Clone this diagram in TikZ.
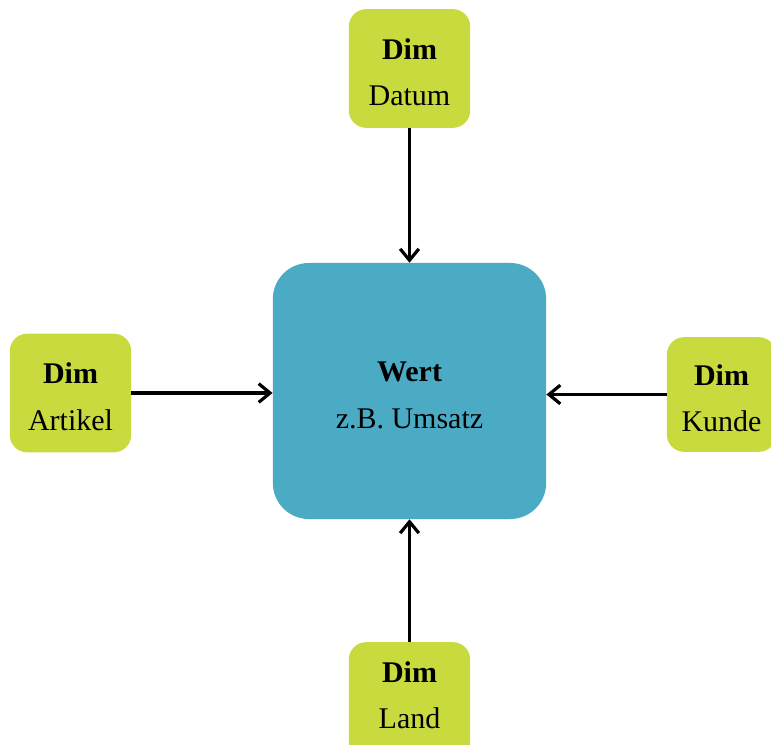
\documentclass[tikz,border=0pt]{standalone}
\usepackage{fontspec}
\setmainfont{Liberation Serif}
\usetikzlibrary{arrows.meta}
\definecolor{dimgreen}{RGB}{200,218,62}
\definecolor{wertblue}{RGB}{75,170,196}
\newcommand{\kopf}[1]{\raisebox{0pt}[21pt]{\textbf{#1}}}

\begin{document}
\begin{tikzpicture}[x=0.75pt,y=-0.75pt,
    dimbox/.style={fill=dimgreen,rounded corners=13pt,minimum width=91pt,
      minimum height=89pt,inner sep=0pt,align=center,
      font=\fontsize{22.5}{27}\selectfont},
    wertbox/.style={fill=wertblue,rounded corners=27pt,minimum width=205pt,
      minimum height=192pt,inner sep=0pt,align=center,
      font=\fontsize{22.5}{27}\selectfont},
    pfeil/.style={line width=2.4pt,
      -{Straight Barb[length=8.5pt,width=14pt,line width=2.4pt]}}]
  \useasboundingbox (0,0) rectangle (771,745);

  % Faktentabelle in der Mitte
  \node[wertbox] (wert) at (409.5,391) {\kopf{Wert}\\[8pt]z.B. Umsatz};

  % Dimensionen rundherum
  \node[dimbox] (datum) at (409.5,68.5) {\kopf{Dim}\\[8pt]Datum};
  \node[dimbox] (artikel) at (70.5,393) {\kopf{Dim}\\[8pt]Artikel};
  \node[dimbox,minimum width=82pt,minimum height=86pt] (kunde)
    at (721.5,394.5) {\kopf{Dim}\\[8pt]Kunde};
  \node[dimbox] (land) at (409.5,701.5)
    {\kopf{Dim}\\[8pt]Land\rule[-15pt]{0pt}{0pt}};

  \draw[pfeil] (datum) -- (wert);
  \draw[pfeil] (land) -- (wert);
  \draw[pfeil] (artikel) -- (artikel -| wert.west);
  \draw[pfeil] (kunde) -- (kunde -| wert.east);
\end{tikzpicture}
\end{document}
